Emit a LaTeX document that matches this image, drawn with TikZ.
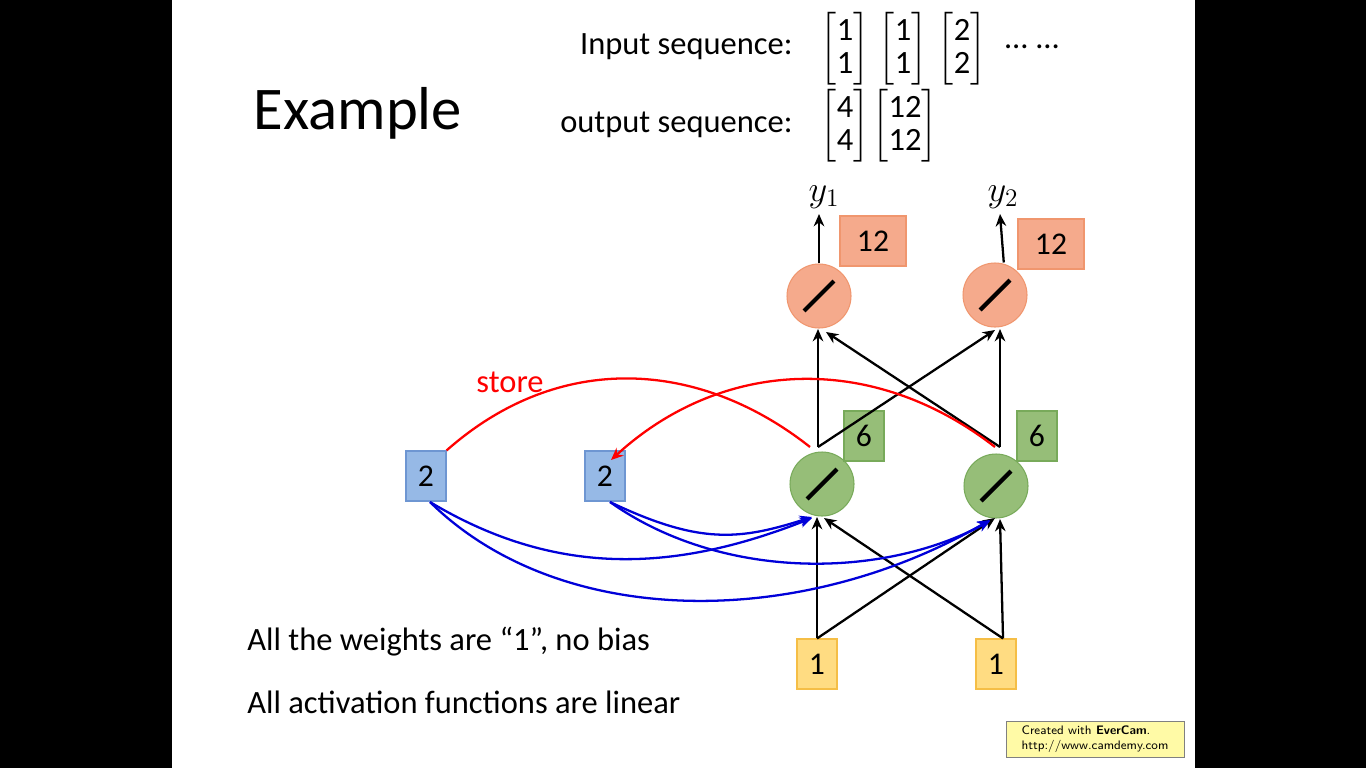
\documentclass[tikz,border=0pt]{standalone}
\usepackage{amsmath}
\usepackage{fontspec}
\setmainfont{Carlito}
\usetikzlibrary{arrows.meta, positioning}
\definecolor{orfill}{RGB}{245,170,140}
\definecolor{ordraw}{RGB}{240,150,110}
\definecolor{grfill}{RGB}{150,190,120}
\definecolor{grdraw}{RGB}{120,170,90}
\definecolor{blfill}{RGB}{150,185,230}
\definecolor{bldraw}{RGB}{110,150,210}
\definecolor{yefill}{RGB}{255,220,130}
\definecolor{yedraw}{RGB}{245,190,70}
\tikzset{
	neuron/.style={
		circle, 
		minimum size=1.28cm, 
		inner sep=0pt,
		line width=0.6pt,
		path picture={\draw[draw=black, line width=2.4pt]
			([shift={(-0.3cm,-0.3cm)}]path picture bounding box.center) --
			([shift={(0.3cm,0.3cm)}]path picture bounding box.center);}
	},
	outneuron/.style={neuron, draw=ordraw, fill=orfill},
	hidneuron/.style={neuron, draw=grdraw, fill=grfill},
	cell/.style={
		rectangle, 
		minimum width=0.8cm, 
		minimum height=1cm, 
		text centered, 
		font=\fontsize{18}{21}\selectfont,
		line width=0.6pt
	},
	outval/.style={cell, minimum width=1.32cm, draw=ordraw, fill=orfill},
	hidval/.style={cell, draw=grdraw, fill=grfill},
	memval/.style={cell, draw=bldraw, fill=blfill},
	inval/.style={cell, draw=yedraw, fill=yefill},
	arrow/.style={line width=1.3pt,-{Stealth[length=7pt,width=6pt]}},
	storearrow/.style={line width=1.3pt,red,-{Stealth[length=7pt,width=6pt]}},
	feed/.style={line width=1.3pt,blue!85!black,-{Stealth[length=7pt,width=6pt]}},
	txt/.style={font=\fontsize{18.5}{22}\selectfont, inner sep=0pt}
}
\newcommand{\vecpair}[2]{$\left[\begin{matrix}\text{#1}\\[-3pt]\text{#2}\end{matrix}\right]$}
\begin{document}
\begin{tikzpicture}[x=0.02cm, y=-0.02cm]
	\fill[black] (0,0) rectangle (1366,768);
	\fill[white] (172,0) rectangle (1195,768);
	\node[font=\fontsize{34.5}{38}\selectfont] (title) at (358,113) {Example};
	\node[txt, anchor=east] (inseq) at (793,47) {Input sequence:};
	\node[txt, anchor=east] (outseq) at (793,125) {output sequence:};
	\node[txt] (x1) at (845,49) {\vecpair{1}{1}};
	\node[txt] (x2) at (903,49) {\vecpair{1}{1}};
	\node[txt] (x3) at (962,49) {\vecpair{2}{2}};
	\node[txt] (dots) at (1032,47) {…\;…};
	\node[txt] (o1) at (845,126) {\vecpair{4}{4}};
	\node[txt] (o2) at (905,126) {\vecpair{12}{12}};

	% network
	\node[outneuron] (out1) at (819,296) {};
	\node[outneuron] (out2) at (995,295) {};
	\node[hidneuron] (hid1) at (822,484) {};
	\node[hidneuron] (hid2) at (996,486) {};
	\node[outval] (ov1) at (873,241) {12};
	\node[outval] (ov2) at (1051,244) {12};
	\node[hidval] (hv1) at (864,436) {6};
	\node[hidval] (hv2) at (1037,436) {6};
	\node[memval] (mem1) at (426,476) {2};
	\node[memval] (mem2) at (605,476) {2};
	\node[inval] (in1) at (817,664) {1};
	\node[inval] (in2) at (996,664) {1};
	\node[font=\fontsize{20}{22}\selectfont] (y1) at (824,197) {$y_1$};
	\node[font=\fontsize{20}{22}\selectfont] (y2) at (1003,197) {$y_2$};
	\coordinate (top1) at (819,214);
	\coordinate (top2) at (1000,214);

	\draw[arrow] (out1.north) -- (top1);
	\draw[arrow] ([xshift=5]out2.north) -- (top2);
	\draw[arrow] (in1.north) -- (817,517);
	\draw[arrow] (in1.north) -- (995,518);
	\draw[arrow] ([xshift=4]in2.north) -- (1000,519);
	\draw[arrow] ([xshift=4]in2.north) -- (824,518);
	\draw[arrow] (818,447) -- (818,329);
	\draw[arrow] (818,447) -- (995,330);
	\draw[arrow] (1000,447) -- (1000,329);
	\draw[arrow] (1000,447) -- (826,332);

	% memory
	\draw[red, line width=1.3pt] (mem1.north east) .. controls (560,350) and (700,360) .. (810,447);
	\draw[storearrow] (995,447) .. controls (870,350) and (720,360) .. (611,460);
	\node[txt, red] (store) at (510,382) {store};
	\draw[feed] (430,502) .. controls (560,580) and (680,570) .. (812,518);
	\draw[feed] (430,502) .. controls (560,630) and (800,630) .. (990,520);
	\draw[feed] (610,502) .. controls (700,545) and (740,540) .. (812,517);
	\draw[feed] (610,502) .. controls (720,580) and (880,580) .. (990,521);

	\node[txt, anchor=west] (rule1) at (247,642) {All the weights are “1”, no bias};
	\node[txt, anchor=west] (rule2) at (247,702) {All activation functions are linear};
	\node[draw=gray, fill=yellow!35, minimum width=3.56cm, minimum height=0.72cm, align=left,
		font=\fontsize{7}{8.5}\selectfont\sffamily, inner sep=2pt] (mark) at (1095,739)
		{Created with \textbf{EverCam}.\\http://www.camdemy.com};
\end{tikzpicture}
\end{document}
